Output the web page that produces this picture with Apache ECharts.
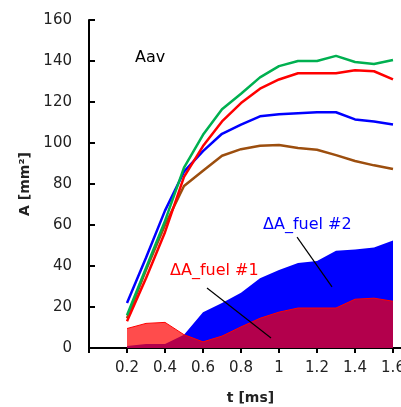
<!DOCTYPE html>
<html>
<head>
<meta charset="utf-8">
<script src="https://cdn.jsdelivr.net/npm/echarts@6/dist/echarts.min.js"></script>
<style>
  html, body { margin: 0; padding: 0; background: #fff; }
  #chart { width: 401px; height: 407px; }
</style>
</head>
<body>
<div id="chart"></div>
<script>
// time axis (ms)
const times = [0.2, 0.3, 0.4, 0.5, 0.6, 0.7, 0.8, 0.9, 1.0, 1.1, 1.2, 1.3, 1.4, 1.5, 1.6]

// Aav curves
const greenA = [16, 39, 62, 88, 104, 116.5, 124, 132, 137.5, 140, 140, 142.5, 139.5, 138.5, 140.5]
const redA = [13, 34, 56.5, 83.5, 98.5, 110.5, 119.5, 126.5, 131, 134, 134, 134, 135.5, 135, 131]
const blueA = [22, 44, 67, 86, 96, 104.5, 109, 113, 114, 114.5, 115, 115, 111.5, 110.5, 109]
const brownA = [14.5, 38, 60, 79, 86.5, 93.8, 97, 98.7, 99, 97.6, 96.7, 94.1, 91.2, 89.1, 87.3]

// ΔA areas
const dFuel2 = [1, 2, 2, 6.5, 17.5, 22, 27, 34, 38, 41.5, 42.5, 47.5, 48, 49, 52.5]
const dFuel1 = [9.5, 12, 12.5, 6.5, 3, 5.8, 10.3, 14.5, 17.5, 19.5, 19.5, 19.5, 23.8, 24.3, 22.8]

const pairs = arr => times.map((t, i) => [t, arr[i]])

const FONT = 'DejaVu Sans'

const lineSeries = (data, color) => ({
  type: 'line',
  data: pairs(data),
  symbol: 'none',
  z: 3,
  lineStyle: { color: color, width: 2.5 }
})

const chart = echarts.init(document.getElementById('chart'), null, { renderer: 'canvas' })
chart.setOption({
  animation: false,
  grid: { left: 89, top: 20, width: 323, height: 328, outerBoundsMode: 'none', containLabel: false },
  xAxis: {
    type: 'value',
    min: 0,
    max: 1.7,
    interval: 0.2,
    name: 't [ms]',
    nameLocation: 'middle',
    nameGap: 43,
    nameTextStyle: { fontFamily: FONT, fontSize: 14, fontWeight: 'bold', color: '#222' },
    axisLine: { lineStyle: { color: '#000', width: 2 } },
    axisTick: { inside: false, length: 5, lineStyle: { color: '#000', width: 2 } },
    axisLabel: {
      margin: 13,
      hideOverlap: false,
      fontFamily: FONT, fontSize: 15, color: '#222',
      formatter: v => (v < 0.1 || v > 1.65) ? '' : String(Math.round(v * 10) / 10)
    },
    splitLine: { show: false }
  },
  yAxis: {
    type: 'value',
    min: 0,
    max: 160,
    interval: 20,
    name: 'A [mm²]',
    nameLocation: 'middle',
    nameGap: 51,
    nameTextStyle: { fontFamily: FONT, fontSize: 14, fontWeight: 'bold', color: '#222' },
    axisLine: { show: true, lineStyle: { color: '#000', width: 2 } },
    axisTick: { show: true, inside: true, length: 6, lineStyle: { color: '#000', width: 2 } },
    axisLabel: { margin: 17, fontFamily: FONT, fontSize: 15, color: '#222' },
    splitLine: { show: false }
  },
  series: [
    {
      name: 'ΔA_fuel #2',
      type: 'line',
      data: pairs(dFuel2),
      symbol: 'none',
      z: 1,
      lineStyle: { width: 0 },
      areaStyle: { color: '#0000ff', opacity: 1 }
    },
    {
      name: 'ΔA_fuel #1',
      type: 'line',
      data: pairs(dFuel1),
      symbol: 'none',
      z: 2,
      lineStyle: { color: '#ff0000', width: 1 },
      areaStyle: { color: 'rgba(255,0,0,0.7)', opacity: 1 },
      markLine: {
        silent: true,
        symbol: ['none', 'none'],
        label: { show: false },
        lineStyle: { color: '#000', width: 1.2, type: 'solid', opacity: 1 },
        data: [
          [{ coord: [1.095, 54.1] }, { coord: [1.279, 29.8] }],
          [{ coord: [0.621, 29.3] }, { coord: [0.958, 4.9] }]
        ]
      }
    },
    lineSeries(brownA, '#9c4e0e'),
    lineSeries(blueA, '#0000ff'),
    lineSeries(redA, '#ff0000'),
    lineSeries(greenA, '#00b050')
  ],
  graphic: [
    { type: 'text', left: 135, top: 50, style: { text: 'Aav', fill: '#000', font: '16px "DejaVu Sans"' } },
    { type: 'text', left: 263, top: 217, style: { text: 'ΔA_fuel #2', fill: '#0000ff', font: '16px "DejaVu Sans"' } },
    { type: 'text', left: 170, top: 263, style: { text: 'ΔA_fuel #1', fill: '#ff0000', font: '16px "DejaVu Sans"' } }
  ]
})
</script>
</body>
</html>
